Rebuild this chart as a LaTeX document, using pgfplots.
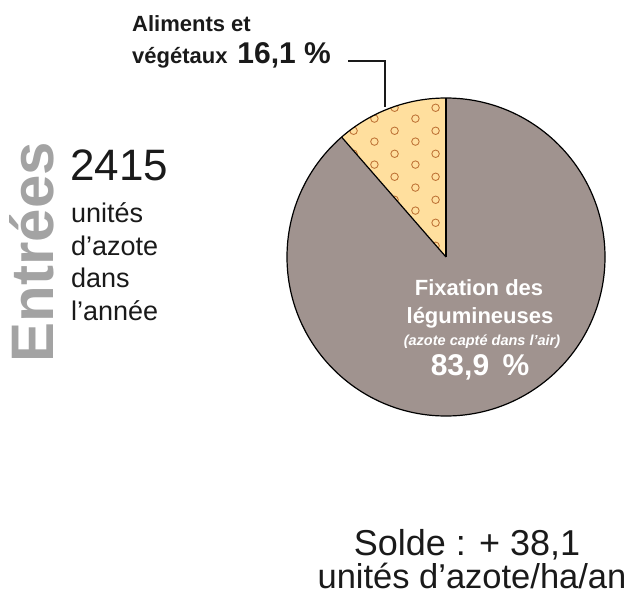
\documentclass[border=0pt]{standalone}
\usepackage{pgfplots}
\pgfplotsset{compat=1.18}
\usepackage{pgfplotstable}
\usetikzlibrary{patterns}
\usepackage{fontspec}
\setmainfont{Liberation Sans}
\definecolor{fixgray}{HTML}{A0938F}
\definecolor{alimbg}{HTML}{FFDF9E}
\definecolor{ringcol}{HTML}{BF7538}
\definecolor{titlegray}{HTML}{A3A3A3}
\definecolor{txt}{HTML}{1A1A1A}
\pgfdeclarepatternformonly{ringdots}{\pgfqpoint{0pt}{0pt}}{\pgfqpoint{41pt}{22.5pt}}{\pgfqpoint{41pt}{22.5pt}}{%
  \pgfsetlinewidth{0.9pt}%
  \pgfpathcircle{\pgfqpoint{5.5pt}{5.5pt}}{3.8pt}%
  \pgfpathcircle{\pgfqpoint{26pt}{16.5pt}}{3.8pt}%
  \pgfusepath{stroke}%
}
% pie slices: share of the full circle as drawn (per cent)
\pgfplotstableread{
label    share
aliments 11.4
fixation 88.6
}\pietable
\begin{document}
\begin{tikzpicture}
\pgfplotstablegetelem{0}{share}\of\pietable
\pgfmathsetmacro{\aEnd}{90+3.6*\pgfplotsretval}
\begin{axis}[
  x=1pt, y=1pt, xmin=0, xmax=629, ymin=0, ymax=599,
  y dir=reverse, hide axis, clip=false, enlargelimits=false,
]
\path (axis cs:0,0) rectangle (axis cs:629,599);
% Fixation slice
\fill[fixgray] (axis cs:446,257) -- ++(\aEnd:159pt) arc[start angle=\aEnd, end angle=450, radius=159pt] -- cycle;
% Aliments slice
\fill[alimbg, postaction={pattern=ringdots, pattern color=ringcol}] (axis cs:446,257) -- ++(90:159pt) arc[start angle=90, end angle=\aEnd, radius=159pt] -- cycle;
% outlines
\draw[line width=1.2pt, black] (axis cs:446,257) circle[radius=159pt];
\draw[line width=1.2pt, black] (axis cs:446,257) -- ++(90:159pt);
\draw[line width=1.2pt, black] (axis cs:446,257) -- ++(\aEnd:159pt);
% callout
\draw[line width=1.3pt, txt] (axis cs:348,61) -- (axis cs:385,61) -- (axis cs:385,107);
% labels
\node[anchor=base west, inner sep=0, text=txt, font=\fontsize{22}{25}\selectfont\bfseries] at (axis cs:132,32) {Aliments et};
\node[anchor=base west, inner sep=0, text=txt, font=\fontsize{22}{25}\selectfont\bfseries] at (axis cs:132,64) {végétaux\hspace{0.45em}\fontsize{30}{32}\selectfont 16,1 \%};
\node[anchor=base, inner sep=0, text=white, font=\fontsize{22}{26}\selectfont\bfseries] at (axis cs:479,295) {Fixation des};
\node[anchor=base, inner sep=0, text=white, font=\fontsize{22}{26}\selectfont\bfseries] at (axis cs:480,323) {légumineuses};
\node[anchor=base, inner sep=0, text=white, font=\fontsize{14.5}{17}\selectfont\bfseries\itshape] at (axis cs:482,345) {(azote capté dans l’air)};
\node[anchor=base, inner sep=0, text=white, font=\fontsize{30}{34}\selectfont\bfseries] at (axis cs:480,375) {83,9 \,\%};
% left block
\node[anchor=base, rotate=90, inner sep=0, text=titlegray, font=\fontsize{60}{64}\selectfont\bfseries] at (axis cs:53,252) {Entrées};
\node[anchor=base west, inner sep=0, text=txt, font=\fontsize{44}{48}\selectfont] at (axis cs:70,180) {2415};
\node[anchor=base west, inner sep=0, text=txt, font=\fontsize{27}{30}\selectfont] at (axis cs:71,222) {unités};
\node[anchor=base west, inner sep=0, text=txt, font=\fontsize{27}{30}\selectfont] at (axis cs:71,255) {d’azote};
\node[anchor=base west, inner sep=0, text=txt, font=\fontsize{27}{30}\selectfont] at (axis cs:71,287) {dans};
\node[anchor=base west, inner sep=0, text=txt, font=\fontsize{27}{30}\selectfont] at (axis cs:71,320) {l’année};
% bottom
\node[anchor=base, inner sep=0, text=txt, font=\fontsize{36}{40}\selectfont] at (axis cs:467,555) {Solde : + 38,1};
\node[anchor=base, inner sep=0, text=txt, font=\fontsize{34.5}{40}\selectfont] at (axis cs:472,588) {unités d’azote/ha/an};
\end{axis}
\end{tikzpicture}
\end{document}
